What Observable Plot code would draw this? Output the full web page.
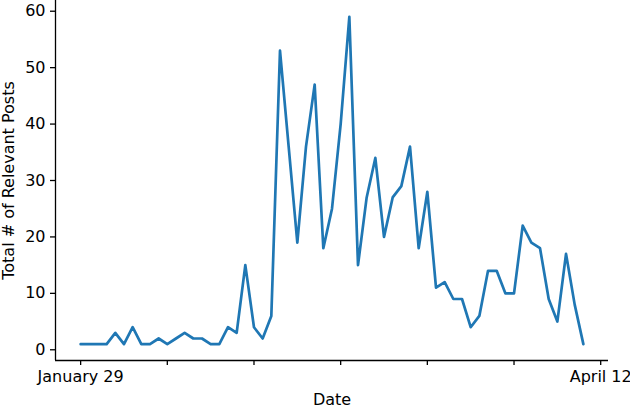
<!DOCTYPE html>
<html>
<head>
<meta charset="utf-8">
<script src="https://cdn.jsdelivr.net/npm/d3@7"></script>
<script src="https://cdn.jsdelivr.net/npm/@observablehq/plot@0.6"></script>
<style>
  html, body { margin: 0; padding: 0; background: #fff; }
</style>
</head>
<body>
<div id="chart"></div>
<script>
// Daily totals of relevant posts (index 0 = January 29)
const posts = [1, 1, 1, 1, 3, 1, 4, 1, 1, 2, 1, 2, 3, 2, 2, 1, 1, 4, 3, 15,
  4, 2, 6, 53, 36, 19, 36, 47, 18, 25, 40, 59, 15, 27, 34, 20, 27, 29, 36, 18,
  28, 11, 12, 9, 9, 4, 6, 14, 14, 10, 10, 22, 19, 18, 9, 5, 17, 8, 1];
const xTickPositions = [0, 10, 20, 30, 40, 50, 60];
const xTickLabels = ["January 29", "", "", "", "", "", "April 12"];
const yTicks = [0, 10, 20, 30, 40, 50, 60];
const xTitle = "Date";
const yTitle = "Total # of Relevant Posts";

const data = posts.map((v, i) => ({ i, v }));
const xDomain = [-2.9, 60.9];
const yDomain = [-1.9, 61.9];

const chart = Plot.plot({
  width: 630,
  height: 407,
  marginLeft: 55,
  marginRight: 22,
  marginTop: 0,
  marginBottom: 47,
  style: { fontFamily: "DejaVu Sans", fontSize: "16px", color: "#000", background: "#fff" },
  x: { domain: xDomain },
  y: { domain: yDomain },
  marks: [
    Plot.axisY(yTicks, { tickSize: 5, tickPadding: 5, label: null, strokeWidth: 1.3 }),
    Plot.axisX(xTickPositions, {
      tickSize: 5, tickPadding: 5, label: null, strokeWidth: 1.3,
      tickFormat: (d) => xTickLabels[xTickPositions.indexOf(d)]
    }),
    Plot.ruleX([xDomain[0]], { stroke: "#000", strokeWidth: 1.3 }),
    Plot.ruleY([yDomain[0]], { stroke: "#000", strokeWidth: 1.3 }),
    Plot.lineY(data, { x: "i", y: "v", stroke: "#1f77b4", strokeWidth: 2.7 }),
    Plot.text([xTitle], { frameAnchor: "bottom", dy: 39, lineAnchor: "middle", fontSize: 16 }),
    Plot.text([yTitle], { frameAnchor: "left", dx: -47, rotate: -90, lineAnchor: "middle", textAnchor: "middle", fontSize: 16 })
  ]
});
document.getElementById("chart").appendChild(chart);
</script>
</body>
</html>
